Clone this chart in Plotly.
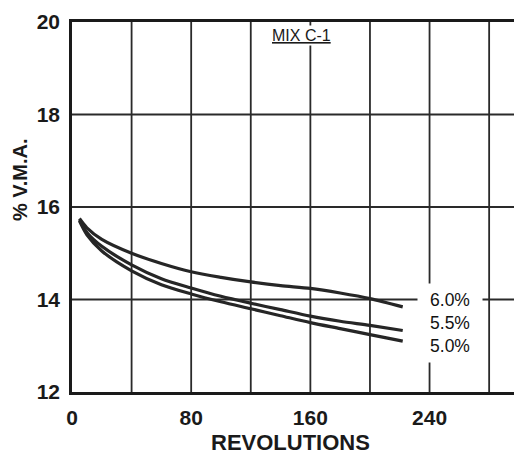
import plotly.graph_objects as go

revolutions = [5, 10, 20, 40, 60, 80, 100, 120, 140, 160, 180, 200, 222]
vma_60 = [15.75, 15.55, 15.3, 15.0, 14.78, 14.6, 14.48, 14.38, 14.3, 14.24, 14.14, 14.02, 13.84]
vma_55 = [15.72, 15.45, 15.15, 14.75, 14.45, 14.25, 14.07, 13.92, 13.78, 13.64, 13.53, 13.44, 13.33]
vma_50 = [15.7, 15.4, 15.05, 14.62, 14.32, 14.12, 13.95, 13.8, 13.65, 13.5, 13.37, 13.24, 13.1]
series_names = ["6.0%", "5.5%", "5.0%"]
x_ticks = [0, 80, 160, 240]
y_ticks = [12, 14, 16, 18, 20]

fig = go.Figure()
for name, ys in zip(series_names, [vma_60, vma_55, vma_50]):
    fig.add_trace(go.Scatter(x=revolutions, y=ys, mode="lines", name=name,
                             line=dict(color="#262626", width=3.2, shape="spline", smoothing=0.8),
                             showlegend=False))

font_bold = dict(family="Liberation Sans, Arial, sans-serif", size=21, color="#1a1a1a", weight="bold")

fig.update_xaxes(range=[0, 298.7], tickvals=x_ticks, ticktext=[str(v) for v in x_ticks],
                 showgrid=False, zeroline=False, showline=True, linecolor="#1a1a1a", linewidth=2.5,
                 mirror=True, ticks="", ticklabelstandoff=5, tickfont=font_bold)
fig.update_yaxes(range=[12, 20], tickvals=y_ticks, ticktext=[str(v) for v in y_ticks],
                 showgrid=False, zeroline=False, showline=True, linecolor="#1a1a1a", linewidth=2.5,
                 mirror=True, ticks="", ticklabelstandoff=5, tickfont=font_bold)

# grid lines every 40 revolutions and every 2 % V.M.A.
for gx in range(40, 298, 40):
    fig.add_shape(type="line", x0=gx, x1=gx, y0=12, y1=20, xref="x", yref="y",
                  line=dict(color="#2a2a2a", width=1.8), layer="below")
for gy in [14, 16, 18]:
    fig.add_shape(type="line", x0=0, x1=298.7, y0=gy, y1=gy, xref="x", yref="y",
                  line=dict(color="#2a2a2a", width=1.8), layer="below")

fig.add_annotation(x=254, y=13.5, xref="x", yref="y",
                   text="<br>".join(series_names), showarrow=False,
                   font=dict(family="Liberation Sans, Arial, sans-serif", size=17.5, color="#111111"),
                   bgcolor="white", width=62, height=76, align="center")

fig.add_annotation(x=154, y=19.7, xref="x", yref="y", text="<u>MIX C-1</u>", showarrow=False,
                   font=dict(family="Liberation Sans, Arial, sans-serif", size=16, color="#1a1a1a"),
                   bgcolor="white", borderpad=1)

fig.add_annotation(x=-0.118, y=0.574, xref="paper", yref="paper", text="% V.M.A.", textangle=-90,
                   showarrow=False, xanchor="center", yanchor="middle",
                   font=dict(family="Liberation Sans, Arial, sans-serif", size=20, color="#1a1a1a", weight="bold"))
fig.add_annotation(x=0.49, y=-0.137, xref="paper", yref="paper", text="REVOLUTIONS",
                   showarrow=False, xanchor="center", yanchor="middle",
                   font=dict(family="Liberation Sans, Arial, sans-serif", size=22, color="#1a1a1a", weight="bold"))

# the page body has an 8px margin, so the figure is sized and offset to compensate
fig.update_layout(width=514, height=450, margin=dict(l=64, r=2, t=13, b=66),
                  paper_bgcolor="white", plot_bgcolor="white")
fig.write_html("out.html")
